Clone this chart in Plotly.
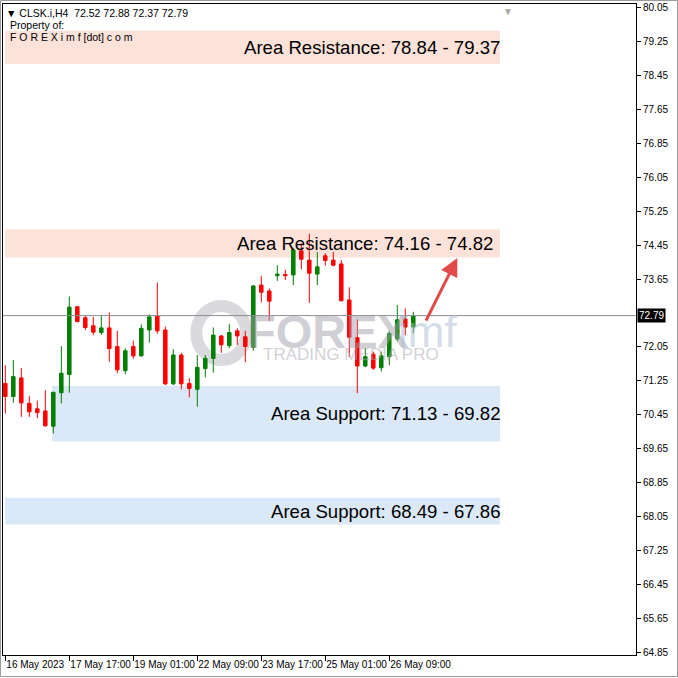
import plotly.graph_objects as go

# ---------------- data ----------------
open_ = [71.19, 70.88, 71.32, 70.72, 70.59, 70.54, 70.18, 70.97, 71.40, 73.00,
         72.74, 72.55, 72.39, 72.50, 72.06, 71.49, 72.06, 71.84, 72.45, 72.78,
         72.45, 71.18, 71.86, 71.19, 71.05, 71.54, 71.78, 72.31, 72.08, 72.43,
         72.29, 72.04, 73.51, 73.37, 73.73, 73.76, 73.75, 74.32, 74.10, 73.77,
         74.20, 74.10, 74.01, 73.16, 72.27, 71.60, 71.88, 71.56, 71.82, 72.24,
         72.71, 72.52]
high = [71.62, 71.74, 71.55, 70.89, 70.78, 71.03, 70.99, 72.07, 73.24, 73.01,
        72.80, 72.76, 72.78, 72.86, 72.43, 72.02, 72.20, 72.58, 72.82, 73.57,
        72.53, 72.00, 71.91, 71.31, 71.86, 71.86, 72.51, 72.33, 72.59, 72.49,
        72.43, 73.51, 73.73, 73.43, 73.98, 73.87, 74.38, 74.50, 74.72, 74.29,
        74.26, 74.29, 74.10, 73.46, 72.70, 72.02, 71.94, 71.94, 72.43, 73.04,
        72.96, 72.88]
low = [70.48, 70.73, 70.40, 70.40, 70.37, 70.17, 70.01, 70.72, 70.97, 72.63,
       72.45, 72.33, 72.33, 71.70, 71.43, 71.41, 71.77, 71.82, 72.15, 72.36,
       71.15, 71.15, 71.05, 70.86, 70.64, 71.33, 71.44, 71.91, 72.02, 72.10,
       71.69, 71.96, 73.10, 72.66, 73.61, 73.63, 73.51, 73.88, 73.09, 73.51,
       73.97, 73.95, 73.13, 71.81, 70.96, 71.57, 71.51, 71.47, 71.62, 72.18,
       72.33, 72.37]
close = [70.88, 71.35, 70.73, 70.52, 70.50, 70.19, 70.98, 71.43, 72.99, 72.65,
         72.51, 72.40, 72.50, 72.01, 71.51, 71.96, 71.84, 72.49, 72.76, 72.43,
         71.18, 71.86, 71.18, 71.07, 71.57, 71.78, 72.33, 72.10, 72.39, 72.31,
         72.06, 73.49, 73.34, 73.13, 73.77, 73.73, 74.34, 74.12, 73.79, 73.94,
         74.09, 73.98, 73.14, 72.28, 71.60, 71.82, 71.55, 71.84, 72.37, 72.69,
         72.52, 72.79]

time_tick_index = [0, 8, 16, 24, 32, 40, 48]
time_tick_labels = ["16 May 2023", "17 May 17:00", "19 May 01:00", "22 May 09:00",
                    "23 May 17:00", "25 May 01:00", "26 May 09:00"]
price_ticks = [64.85, 65.65, 66.45, 67.25, 68.05, 68.85, 69.65, 70.45, 71.25, 72.05,
               73.65, 74.45, 75.25, 76.05, 76.85, 77.65, 78.45, 79.25, 80.05]
price_tick_labels = ["64.85", "65.65", "66.45", "67.25", "68.05", "68.85", "69.65",
                     "70.45", "71.25", "72.05", "73.65", "74.45", "75.25",
                     "76.05", "76.85", "77.65", "78.45", "79.25", "80.05"]

symbol = "CLSK.i,H4"
last_price = 72.79

zone_labels = ["Area Resistance: 78.84 - 79.37", "Area Resistance: 74.16 - 74.82",
               "Area Support: 71.13 - 69.82", "Area Support: 68.49 - 67.86"]
zone_kind = ["res", "res", "sup", "sup"]
zone_high = [79.51, 74.82, 71.13, 68.49]
zone_low = [78.73, 74.16, 69.82, 67.86]

x_idx = list(range(len(open_)))

# ---------------- figure ----------------
fig = go.Figure()
fig.add_trace(go.Candlestick(
    x=x_idx, open=open_, high=high, low=low, close=close,
    increasing=dict(line=dict(color="#007f00", width=1), fillcolor="#007f00"),
    decreasing=dict(line=dict(color="#ff0000", width=1), fillcolor="#ff0000"),
    whiskerwidth=0, showlegend=False, hoverinfo="skip"))

zone_x0 = [-0.04, -0.04, 5.84, -0.04]
zone_x1 = 61.84
label_xshift = [0, -7, 0, 0]
shapes = []
annotations = []
for i in range(len(zone_labels)):
    col = "#fde2da" if zone_kind[i] == "res" else "#dbe8f7"
    shapes.append(dict(type="rect", xref="x", yref="y", x0=zone_x0[i], x1=zone_x1,
                       y0=zone_low[i], y1=zone_high[i], fillcolor=col,
                       line=dict(width=0), layer="below"))
    annotations.append(dict(x=zone_x1, y=(zone_low[i] + zone_high[i]) / 2,
                            xref="x", yref="y", xanchor="right", yanchor="middle",
                            xshift=label_xshift[i] + 2,
                            text=zone_labels[i], showarrow=False,
                            font=dict(family="Liberation Sans", size=18.6, color="#000000")))

# current price line
shapes.append(dict(type="line", xref="paper", yref="y", x0=0, x1=1,
                   y0=last_price, y1=last_price, line=dict(color="#8a8f96", width=1)))

# watermark logo ring
shapes.append(dict(type="circle", xref="x", yref="y", xsizemode="pixel", ysizemode="pixel",
                   xanchor=27.0, yanchor=72.38, x0=-25, x1=25, y0=-27, y1=27,
                   line=dict(color="rgba(185,185,195,0.55)", width=12), layer="below"))

# frame around whole window
shapes.append(dict(type="rect", xref="paper", yref="paper",
                   x0=-2.5 / 633, x1=674.5 / 633, y0=-21.5 / 651, y1=1 + 3.5 / 651,
                   line=dict(color="#9a9a9a", width=1), fillcolor="rgba(0,0,0,0)"))

# watermark text
annotations.append(dict(x=0.0, y=72.42, xref="x", yref="y", xanchor="left", yanchor="middle",
                        text="<b>FOREX</b>", showarrow=False, xshift=240,
                        font=dict(family="Liberation Sans", size=47, color="rgba(160,160,172,0.5)")))
annotations.append(dict(x=0.0, y=72.42, xref="x", yref="y", xanchor="left", yanchor="middle",
                        text="imf", showarrow=False, xshift=391,
                        font=dict(family="Liberation Sans", size=44, color="rgba(170,186,208,0.5)")))
annotations.append(dict(x=0.0, y=71.88, xref="x", yref="y", xanchor="left", yanchor="middle",
                        text="TRADING MEDIA PRO", showarrow=False, xshift=256,
                        font=dict(family="Liberation Sans", size=17, color="rgba(170,170,180,0.55)")))

# arrow
annotations.append(dict(x=56.5, y=74.15, ax=52.5, ay=72.64, xref="x", yref="y",
                        axref="x", ayref="y", showarrow=True, arrowhead=2, arrowsize=1.2,
                        arrowwidth=3, arrowcolor="#e34b4b", text=""))

# header
hdr_font = dict(family="Liberation Sans", size=10.5, color="#000000")
annotations.append(dict(xref="paper", yref="paper", x=1 / 633, y=1 - 9 / 651, xanchor="left",
                        yanchor="middle", showarrow=False, font=hdr_font,
                        text="▼ " + symbol + "  " + "%.2f %.2f %.2f %.2f" % (open_[-1], high[-1], low[-1], close[-1])))
annotations.append(dict(xref="paper", yref="paper", x=5 / 633, y=1 - 21 / 651, xanchor="left",
                        yanchor="middle", showarrow=False, font=hdr_font, text="Property of:"))
annotations.append(dict(xref="paper", yref="paper", x=5 / 633, y=1 - 33 / 651, xanchor="left",
                        yanchor="middle", showarrow=False, font=hdr_font,
                        text="F O R E X i m f [dot] c o m"))
# chart shift marker
annotations.append(dict(xref="x", yref="paper", x=62.8, y=1.0, xanchor="center", yanchor="top",
                        showarrow=False, text="▼", font=dict(size=10, color="#a8a8a8")))

# last price label
annotations.append(dict(xref="paper", yref="y", x=1, y=last_price, xanchor="left", yanchor="middle",
                        xshift=1, showarrow=False, text="%.2f" % last_price, bgcolor="#000000",
                        borderpad=1, font=dict(family="Liberation Sans", size=10, color="#ffffff")))

fig.update_layout(
    width=678, height=678,
    margin=dict(l=3, r=42, t=4, b=23, autoexpand=False),
    paper_bgcolor="#ffffff", plot_bgcolor="#ffffff",
    boxgap=0.38,
    shapes=shapes, annotations=annotations,
    xaxis=dict(range=[-0.29, 78.84], rangeslider=dict(visible=False), showgrid=False,
               zeroline=False, showline=True, linecolor="#000000", linewidth=1, mirror=True,
               tickmode="array", tickvals=time_tick_index, ticktext=time_tick_labels,
               ticks="outside", ticklen=5, tickcolor="#000000", tickangle=0,
               automargin=False, ticklabelposition="outside right",
               tickfont=dict(family="Liberation Sans", size=10, color="#000000")),
    yaxis=dict(range=[64.78, 80.144], side="right", showgrid=False, zeroline=False,
               showline=True, linecolor="#000000", linewidth=1, mirror=True,
               tickmode="array", tickvals=price_ticks, ticktext=price_tick_labels,
               ticks="outside", ticklen=4, tickcolor="#000000", automargin=False,
               tickfont=dict(family="Liberation Sans", size=10, color="#000000")),
    font=dict(family="Liberation Sans"),
)

fig.write_html("out.html", config={"displayModeBar": False},
               post_script="document.body.style.margin='0px';document.body.style.overflow='hidden';")
